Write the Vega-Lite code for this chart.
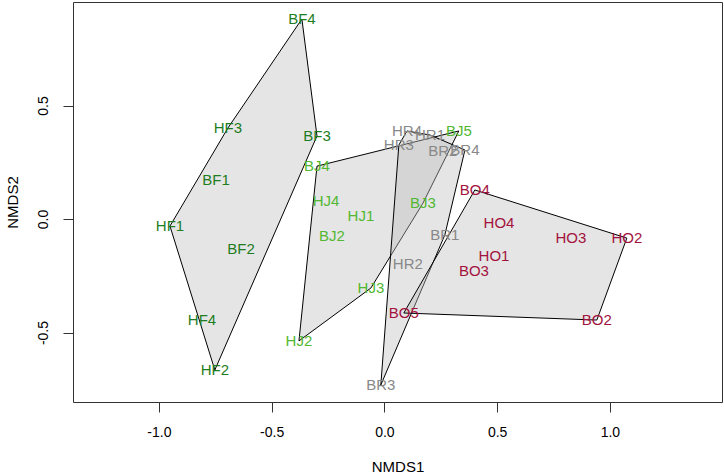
{
  "$schema": "https://vega.github.io/schema/vega-lite/v6.json",
  "width": 649,
  "height": 400,
  "autosize": {"type": "none"},
  "padding": {"left": 73, "top": 2, "right": 2, "bottom": 74},
  "background": "white",
  "config": {
    "view": {"stroke": "#333333", "strokeWidth": 1},
    "font": "Liberation Sans"
  },
  "data": {
    "values": [
      {"label": "BF4", "grp": "F", "x": -0.366, "y": 0.881, "h": 1},
      {"label": "HF3", "grp": "F", "x": -0.694, "y": 0.401, "h": 5},
      {"label": "BF3", "grp": "F", "x": -0.299, "y": 0.366, "h": 2},
      {"label": "BF1", "grp": "F", "x": -0.747, "y": 0.172, "h": null},
      {"label": "HF1", "grp": "F", "x": -0.951, "y": -0.031, "h": 4},
      {"label": "BF2", "grp": "F", "x": -0.636, "y": -0.132, "h": null},
      {"label": "HF4", "grp": "F", "x": -0.809, "y": -0.445, "h": null},
      {"label": "HF2", "grp": "F", "x": -0.752, "y": -0.665, "h": 3},
      {"label": "BJ4", "grp": "J", "x": -0.299, "y": 0.233, "h": 1},
      {"label": "HJ4", "grp": "J", "x": -0.259, "y": 0.079, "h": null},
      {"label": "HJ1", "grp": "J", "x": -0.104, "y": 0.013, "h": null},
      {"label": "BJ2", "grp": "J", "x": -0.233, "y": -0.075, "h": null},
      {"label": "BJ3", "grp": "J", "x": 0.171, "y": 0.07, "h": 3},
      {"label": "BJ5", "grp": "J", "x": 0.33, "y": 0.388, "h": 2},
      {"label": "HJ3", "grp": "J", "x": -0.06, "y": -0.304, "h": 4},
      {"label": "HJ2", "grp": "J", "x": -0.379, "y": -0.537, "h": 5},
      {"label": "HR4", "grp": "R", "x": 0.1, "y": 0.388, "h": 2},
      {"label": "HR3", "grp": "R", "x": 0.064, "y": 0.326, "h": 1},
      {"label": "HR1", "grp": "R", "x": 0.202, "y": 0.37, "h": 3},
      {"label": "BR2", "grp": "R", "x": 0.259, "y": 0.3, "h": null},
      {"label": "BR4", "grp": "R", "x": 0.357, "y": 0.304, "h": 4},
      {"label": "BR1", "grp": "R", "x": 0.268, "y": -0.07, "h": 5},
      {"label": "HR2", "grp": "R", "x": 0.104, "y": -0.198, "h": null},
      {"label": "BR3", "grp": "R", "x": -0.016, "y": -0.731, "h": 6},
      {"label": "BO4", "grp": "O", "x": 0.401, "y": 0.128, "h": 1},
      {"label": "HO4", "grp": "O", "x": 0.508, "y": -0.018, "h": null},
      {"label": "BO3", "grp": "O", "x": 0.397, "y": -0.229, "h": null},
      {"label": "HO1", "grp": "O", "x": 0.486, "y": -0.163, "h": null},
      {"label": "HO3", "grp": "O", "x": 0.827, "y": -0.084, "h": null},
      {"label": "HO2", "grp": "O", "x": 1.075, "y": -0.084, "h": 2},
      {"label": "BO5", "grp": "O", "x": 0.086, "y": -0.414, "h": 4},
      {"label": "BO2", "grp": "O", "x": 0.942, "y": -0.445, "h": 3}
    ]
  },
  "encoding": {
    "x": {
      "field": "x", "type": "quantitative",
      "scale": {"domain": [-1.381, 1.497], "nice": false, "zero": false},
      "axis": {
        "title": "NMDS1", "values": [-1, -0.5, 0, 0.5, 1],
        "labelExpr": "replace(format(datum.value, '.1f'), '\u2212', '-')",
        "grid": false, "domain": false, "tickSize": 10, "tickColor": "#333333",
        "labelPadding": 13, "labelFontSize": 14, "labelColor": "#000000", "labelFont": "Liberation Sans",
        "titleFontSize": 15, "titleFontWeight": "normal", "titleColor": "#000000", "titleFont": "Liberation Sans",
        "titleY": 64, "titleBaseline": "middle"
      }
    },
    "y": {
      "field": "y", "type": "quantitative",
      "scale": {"domain": [-0.806, 0.956], "nice": false, "zero": false},
      "axis": {
        "title": "NMDS2", "values": [-0.5, 0, 0.5],
        "labelExpr": "replace(format(datum.value, '.1f'), '\u2212', '-')",
        "grid": false, "domain": false, "tickSize": 10, "tickColor": "#333333",
        "labelAngle": -90, "labelAlign": "center", "labelBaseline": "bottom",
        "labelPadding": 13, "labelFontSize": 14, "labelColor": "#000000", "labelFont": "Liberation Sans",
        "titleFontSize": 15, "titleFontWeight": "normal", "titleColor": "#000000", "titleFont": "Liberation Sans",
        "titleX": -61, "titleY": 200, "titleAngle": -90, "titleAlign": "center", "titleBaseline": "middle"
      }
    }
  },
  "layer": [
    {
      "transform": [{"filter": "datum.h != null"}],
      "mark": {"type": "line", "interpolate": "linear-closed", "fill": "#bebebe", "fillOpacity": 0.4, "stroke": "#000000", "strokeWidth": 1},
      "encoding": {
        "detail": {"field": "grp", "type": "nominal"},
        "order": {"field": "h", "type": "quantitative"}
      }
    },
    {
      "mark": {"type": "text", "fontSize": 15, "align": "center", "baseline": "middle", "font": "Liberation Sans"},
      "encoding": {
        "text": {"field": "label", "type": "nominal"},
        "color": {
          "field": "grp", "type": "nominal", "legend": null,
          "scale": {"domain": ["F", "J", "R", "O"], "range": ["#1e7d1e", "#52b832", "#888888", "#a3123d"]}
        }
      }
    }
  ]
}
